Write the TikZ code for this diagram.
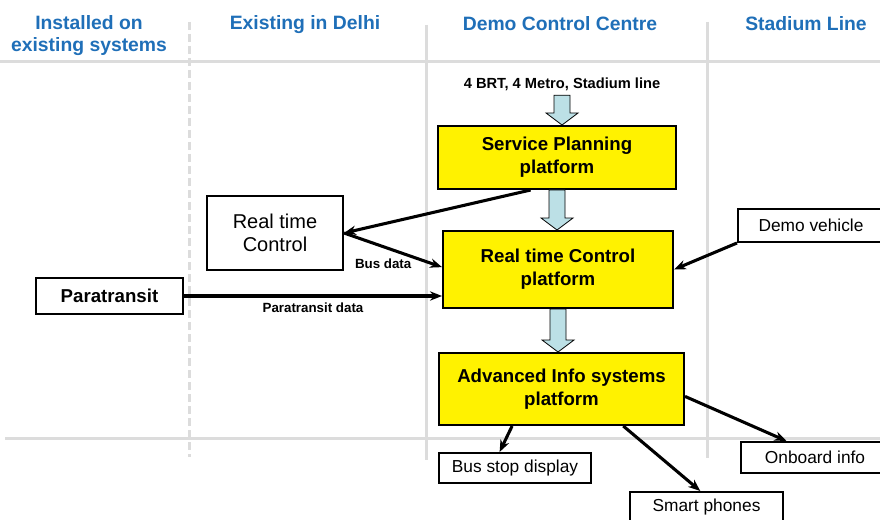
\documentclass[tikz,border=0pt]{standalone}
\usepackage{fontspec}
\setmainfont{Liberation Sans}
\usetikzlibrary{calc}
\usetikzlibrary{arrows.meta}

\definecolor{hdrblue}{HTML}{1F6FB8}
\definecolor{gridgray}{HTML}{DCDCDC}
\definecolor{flowblue}{HTML}{BCE0E6}

% Fat flow arrow from one node down to the next
\newcommand{\flowarrow}[2]{%
  \draw[flow] let \p1=(#1), \p2=(#2) in
    (\x1-6pt,\y1) -- (\x1-6pt,\y2+9pt) -- (\x1-12pt,\y2+9pt) -- (\x1,\y2)
    -- (\x1+12pt,\y2+9pt) -- (\x1+6pt,\y2+9pt) -- (\x1+6pt,\y1) -- cycle;}

\begin{document}
\begin{tikzpicture}[x=0.75pt,y=-0.75pt,
  header/.style={text=hdrblue,font=\fontsize{14.5}{16.5}\selectfont\bfseries,align=center},
  grid/.style={gridgray,line width=2.25pt},
  platform/.style={draw,line width=1.5pt,fill=yellow,align=center,inner sep=0pt,
    font=\fontsize{14}{17}\selectfont\bfseries},
  plainbox/.style={draw,line width=1.5pt,fill=white,align=center,inner sep=0pt,
    font=\fontsize{13}{15}\selectfont},
  flow/.style={draw=black,line width=0.6pt,fill=flowblue},
  link/.style={line width=2.3pt,-{Stealth[length=9pt,width=7pt]}},
  lbl/.style={font=\fontsize{10}{11}\selectfont\bfseries}]
  % Constants
  \pgfmathsetmacro\px{0.75}
  % Boundary
  \path[use as bounding box] (0,0) rectangle (880,520);
  % Columns
  \draw[grid] (0,62) -- (880,62);
  \draw[grid] (5,438) -- (880,438);
  \draw[grid,dash pattern=on 6pt off 3pt] (189,22) -- (189,457);
  \draw[grid] (426,25) -- (426,460);
  \draw[grid] (707,22) -- (707,458);
  \node[header] (hinst) at (89,36) {Installed on\\existing systems};
  \node[header] (hdelhi) at (305,25) {Existing in Delhi};
  \node[header] (hdemo) at (560,24) {Demo Control Centre};
  \node[header] (hstad) at (806,24) {Stadium Line};
  % Platforms
  \node[font=\fontsize{11}{13}\selectfont\bfseries] (feed) at (562,84) {4 BRT, 4 Metro, Stadium line};
  \node[platform,minimum width=238*\px,minimum height=63*\px] (plan) at (557,157.5) {Service Planning\\platform};
  \node[platform,minimum width=230*\px,minimum height=77*\px] (ctrl) at (558,269.5) {Real time Control\\platform};
  \node[platform,minimum width=245*\px,minimum height=72*\px] (info) at (561.5,389) {Advanced Info systems\\platform};
  \flowarrow{feed.south}{plan.north}
  \flowarrow{plan.south}{ctrl.north}
  \flowarrow{ctrl.south}{info.north}
  % Inputs
  \node[plainbox,minimum width=136*\px,minimum height=74*\px,font=\fontsize{15}{17}\selectfont] (rtc) at (275,233) {Real time\\Control};
  \node[plainbox,minimum width=147*\px,minimum height=36*\px,font=\fontsize{14}{16}\selectfont\bfseries] (para) at (109.5,296) {Paratransit};
  \node[plainbox,minimum width=146*\px,minimum height=33*\px] (demo) at (811,225.5) {Demo vehicle};
  \draw[link] ($(plan.south west)!0.39!(plan.south east)$) -- (rtc.east);
  \draw[link] (rtc.east) -- ($(ctrl.north west)!0.47!(ctrl.south west)$) node[lbl,pos=0.4,below=5pt] {Bus data};
  \draw[link] (para.east) -- (para.east -| ctrl.west) node[lbl,midway,below=1pt] {Paratransit data};
  \draw[link] (demo.south west) -- (ctrl.east);
  % Outputs
  \node[plainbox,minimum width=152*\px,minimum height=30*\px] (stop) at (515,468) {Bus stop display};
  \node[plainbox,minimum width=148*\px,minimum height=31*\px] (board) at (815,457.5) {Onboard info};
  \node[plainbox,minimum width=153*\px,minimum height=30*\px] (phone) at (706.5,507) {Smart phones};
  \draw[link] ($(info.south west)!0.3!(info.south east)$) -- ($(stop.north west)!0.4!(stop.north east)$);
  \draw[link] ($(info.south west)!0.75!(info.south east)$) -- ($(phone.north west)!0.46!(phone.north east)$);
  \draw[link] ($(info.north east)!0.6!(info.south east)$) -- ($(board.north west)!0.31!(board.north east)$);
\end{tikzpicture}
\end{document}
